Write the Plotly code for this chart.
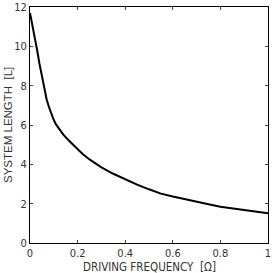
import plotly.graph_objects as go

freq = [0.0, 0.01, 0.02, 0.03, 0.04, 0.05, 0.06, 0.07, 0.08, 0.09, 0.10, 0.11, 0.12, 0.14, 0.16, 0.18, 0.2, 0.22, 0.25, 0.3, 0.35, 0.4, 0.45, 0.5, 0.55, 0.6, 0.65, 0.7, 0.75, 0.8, 0.85, 0.9, 0.95, 1.0]
length = [11.7, 11.1, 10.45, 9.8, 9.1, 8.45, 7.85, 7.3, 6.9, 6.53, 6.25, 6.02, 5.85, 5.51, 5.25, 5.0, 4.78, 4.54, 4.25, 3.85, 3.52, 3.23, 2.97, 2.73, 2.51, 2.36, 2.24, 2.1, 1.97, 1.84, 1.75, 1.67, 1.59, 1.51]

x_ticks = [0, 0.2, 0.4, 0.6, 0.8, 1]
x_labels = ["0", "0.2", "0.4", "0.6", "0.8", "1"]
y_ticks = [0, 2, 4, 6, 8, 10, 12]

fig = go.Figure()
fig.add_trace(go.Scatter(x=freq, y=length, mode="lines", line=dict(color="black", width=2), showlegend=False))

narrow = "Liberation Sans Narrow, DejaVu Sans Condensed, Arial Narrow, sans-serif"
fnt = "Liberation Sans, Arial, sans-serif"
fig.update_layout(
    width=273, height=273,
    margin=dict(l=30, r=5, t=7, b=30),
    paper_bgcolor="white", plot_bgcolor="white",
    font=dict(family=narrow, color="#333", size=11),
    xaxis=dict(range=[0, 1], tickvals=x_ticks, ticktext=x_labels, ticks="inside", ticklen=3,
               showline=True, linecolor="black", linewidth=1, mirror="ticks", showgrid=False, zeroline=False,
               ticklabeloverflow="allow", automargin=False,
               tickfont=dict(family=narrow, size=11, color="#333")),
    yaxis=dict(range=[0, 12], tickvals=y_ticks, ticks="inside", ticklen=3,
               showline=True, linecolor="black", linewidth=1, mirror="ticks", showgrid=False, zeroline=False,
               ticklabeloverflow="allow", automargin=False,
               tickfont=dict(family=narrow, size=11, color="#333")),
    annotations=[
        dict(text="DRIVING FREQUENCY  [Ω]", xref="paper", yref="paper", x=0.5, y=0, yshift=-24,
             xanchor="center", yanchor="middle", showarrow=False, font=dict(family=narrow, size=11.5, color="#333")),
        dict(text="SYSTEM LENGTH  [L]", xref="paper", yref="paper", x=0, y=0.5, xshift=-22,
             xanchor="center", yanchor="middle", textangle=-90, showarrow=False, font=dict(family=fnt, size=11.5, color="#333")),
    ],
)
fig.write_html("out.html", config={"displayModeBar": False},
               post_script="document.body.style.margin='0';document.body.style.padding='0';document.body.style.overflow='hidden';")
